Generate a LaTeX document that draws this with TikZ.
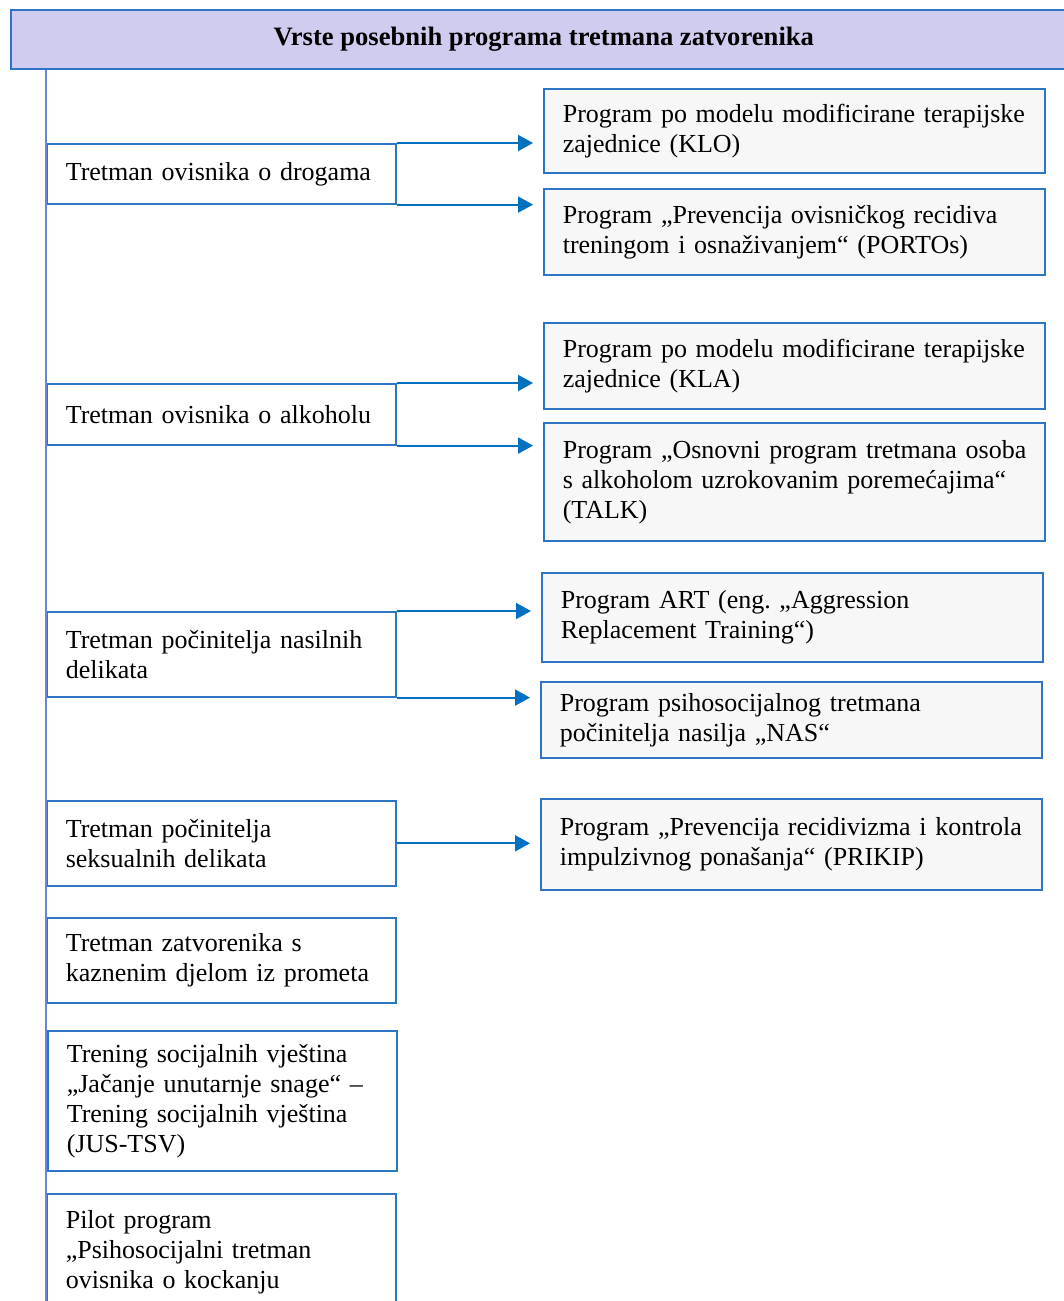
\documentclass[tikz,border=0pt]{standalone}
\usepackage{fontspec}
\setmainfont{Liberation Serif}
\frenchspacing
\usetikzlibrary{arrows.meta}
\definecolor{bord}{HTML}{2E75C5}
\definecolor{arr}{HTML}{0070C0}
\definecolor{titlefill}{HTML}{D0CCEF}
\definecolor{rfill}{HTML}{F7F7F7}
\definecolor{vline}{HTML}{6A86D4}
\begin{document}
\begin{tikzpicture}[x=0.5pt,y=-0.5pt,
  basebox/.style={draw=bord,line width=0.8pt,rectangle,anchor=north west,
    inner xsep=9.5pt,inner ysep=0pt,align=left,
    font=\fontsize{13}{15}\selectfont\frenchspacing},
  lbox/.style={basebox,fill=white,text width=155.5pt,minimum width=174.5pt},
  rbox/.style={basebox,fill=rfill,text width=231.5pt,minimum width=250.5pt},
  titlebox/.style={draw=bord,line width=0.8pt,fill=titlefill,anchor=north west,
    minimum width=533pt,minimum height=29.5pt,
    font=\fontsize{13.3}{15}\selectfont\bfseries},
  conn/.style={draw=arr,line width=1pt,-{Triangle[length=7.5pt,width=8pt]},shorten >=5pt},
  trunk/.style={draw=vline,line width=0.8pt}
]
\useasboundingbox (0,0) rectangle (1064,1301);
\fill[white] (0,0) rectangle (1064,1301);

\node[titlebox] (title) at (10,9) {Vrste posebnih programa tretmana zatvorenika};
\coordinate (bot) at (46,1301);

% left boxes
\node[lbox,minimum height=30pt] (L1) at (46,143) {\mbox{Tretman ovisnika o drogama}};
\node[lbox,minimum height=30.5pt] (L2) at (46,383) {\mbox{Tretman ovisnika o alkoholu}};
\node[lbox,minimum height=42.5pt] (L3) at (46,611) {\mbox{Tretman počinitelja nasilnih}\\\mbox{delikata}};
\node[lbox,minimum height=42.5pt] (L4) at (46,800) {\mbox{Tretman počinitelja}\\\mbox{seksualnih delikata}};
\node[lbox,minimum height=42.5pt] (L5) at (46,917) {\mbox{Tretman zatvorenika s}\\\mbox{kaznenim djelom iz prometa}};
\node[lbox,minimum height=70pt] (L6) at (47,1030) {\mbox{Trening socijalnih vještina}\\\mbox{„Jačanje unutarnje snage“ –}\\\mbox{Trening socijalnih vještina}\\\mbox{(JUS-TSV)}};
\node[lbox,minimum height=58pt] (L7) at (46,1193) {\mbox{Pilot program}\\\mbox{„Psihosocijalni tretman}\\\mbox{ovisnika o kockanju}};

\draw[trunk] (title.south -| L1.west) -- (bot);

% right boxes
\node[rbox,minimum height=42pt] (R1) at (543,88) {\mbox{Program po modelu modificirane terapijske}\\\mbox{zajednice (KLO)}};
\node[rbox,minimum height=43pt] (R2) at (543,188) {\mbox{Program „Prevencija ovisničkog recidiva}\\\mbox{treningom i osnaživanjem“ (PORTOs)}};
\node[rbox,minimum height=43pt] (R3) at (543,322) {\mbox{Program po modelu modificirane terapijske}\\\mbox{zajednice (KLA)}};
\node[rbox,minimum height=59pt] (R4) at (543,422) {\mbox{Program „Osnovni program tretmana osoba}\\\mbox{s alkoholom uzrokovanim poremećajima“}\\\mbox{(TALK)}};
\node[rbox,minimum height=44.5pt] (R5) at (541,572) {\mbox{Program ART (eng. „Aggression}\\\mbox{Replacement Training“)}};
\node[rbox,minimum height=38pt] (R6) at (540,681) {\mbox{Program psihosocijalnog tretmana}\\\mbox{počinitelja nasilja „NAS“}};
\node[rbox,minimum height=45.5pt] (R7) at (540,798) {\mbox{Program „Prevencija recidivizma i kontrola}\\\mbox{impulzivnog ponašanja“ (PRIKIP)}};

% connectors
\draw[conn] (L1.north east) -- (L1.north east -| R1.west);
\draw[conn] (L1.south east) -- (L1.south east -| R2.west);
\draw[conn] (L2.north east) -- (L2.north east -| R3.west);
\draw[conn] (L2.south east) -- (L2.south east -| R4.west);
\draw[conn] (L3.north east) -- (L3.north east -| R5.west);
\draw[conn] (L3.south east) -- (L3.south east -| R6.west);
\draw[conn] (L4.east) -- (L4.east -| R7.west);
\end{tikzpicture}
\end{document}
